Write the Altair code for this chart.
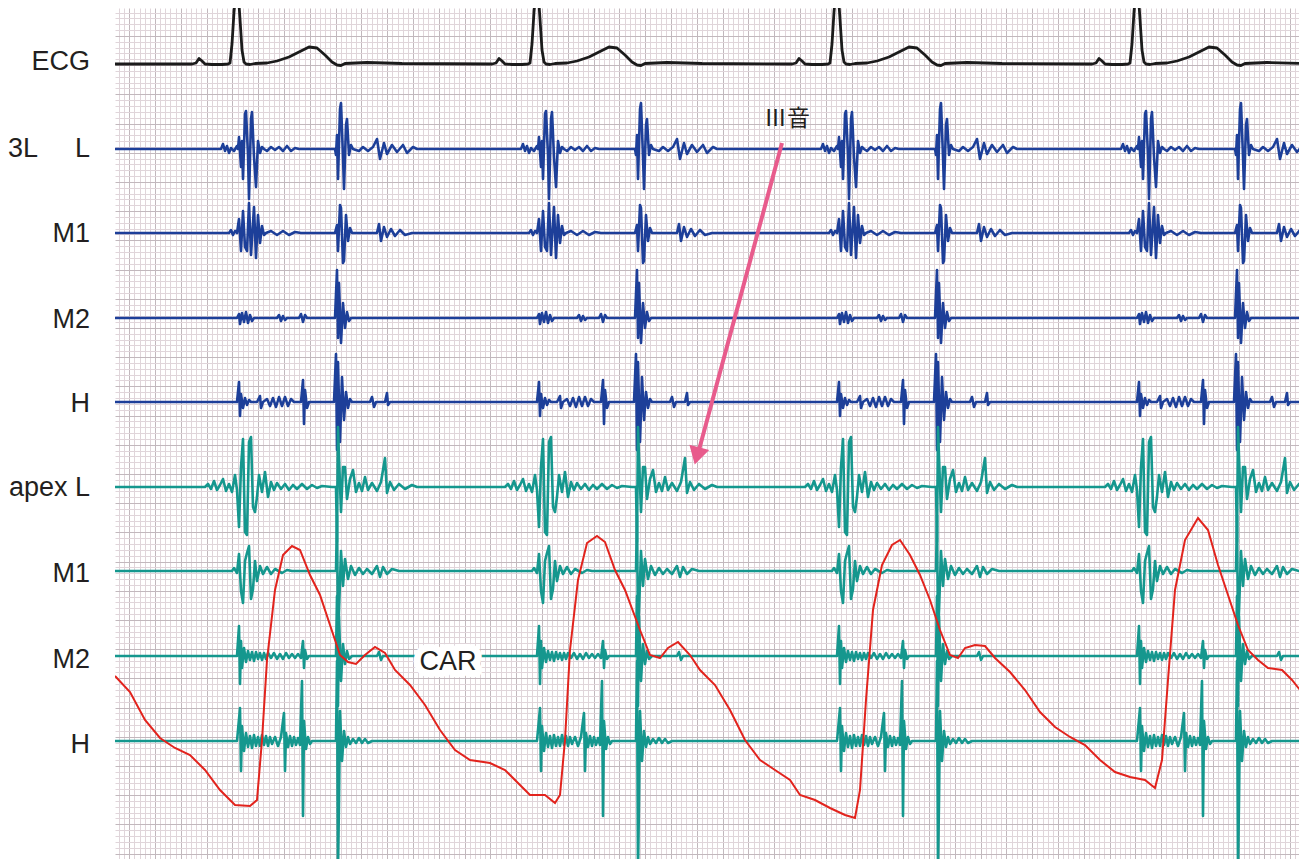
import altair as alt
import pandas as pd

# ---------------- data (read from the recording; x = position along strip, px units) -------------
r_peaks = [237, 537, 837, 1137]          # ECG R-wave positions

# ECG beat shape: (offset from R, deflection up)
ecg_beat = [(-45, 0), (-41, 1), (-38, 5.5), (-35, 3), (-32, 0), (-25, -0.5), (-15, -0.5), (-9, 0),
            (-7, 1), (-5, 20), (-3, 52), (-1, 74), (1, 74), (3, 45), (5, 14), (7, 2), (9, 0),
            (13, -0.5), (18, 0.5), (30, 1), (40, 3), (52, 7), (64, 13), (72, 17), (80, 16),
            (88, 9), (95, 2), (100, -1), (104, -1.5), (108, 0.5), (130, 1.5), (165, 0.5)]

# phonocardiogram beat shapes: (offset from R, deflection up)
pcg_3l_low = [(-30, 0), (-16, 0), (-14, 5), (-12, -2), (-10, 3), (-8, -4), (-6, 1), (-3, -2), (0, 3),
              (1, 0), (2, 12), (4, -18), (5, 8), (6, -30), (8, 35), (9, 38), (11, -6), (12, -50),
              (14, 30), (15, 37), (17, -8), (19, -38), (21, 8), (23, -4), (25, 2), (27, 0), (30, -2),
              (34, 2), (38, -1), (42, 2), (46, -2), (50, 3), (54, -2), (58, 1), (62, 0), (95, 0),
              (98, 0), (99, -6), (100, 14), (101, -30), (103, 40), (104, 46), (106, -8), (107, -40),
              (109, 24), (110, 30), (112, -6), (114, 4), (116, 0), (122, -2), (126, 2), (131, -2),
              (136, 2), (140, 10), (143, -10), (147, 6), (150, -5), (155, 4), (160, -3), (166, 4),
              (170, -4), (176, 2), (180, 0)]
pcg_3l_m1 = [(-30, 0), (-8, 0), (-6, 3), (-4, -2), (-2, 2), (0, 0), (2, 14), (4, -18), (6, 22),
             (8, -14), (10, -18), (12, 30), (14, -22), (17, 26), (19, -25), (21, 18), (23, -10),
             (25, 7), (27, -2), (29, 0), (34, 2), (40, -2), (46, 2), (52, -2), (58, 1), (64, 0),
             (95, 0), (98, 0), (100, 8), (101, -18), (103, 28), (104, 25), (106, -30), (107, -28),
             (109, 18), (111, -8), (113, 5), (115, 0), (140, 0), (142, 9), (144, -8), (147, 6),
             (150, -4), (154, 4), (158, -3), (163, 3), (168, -2), (175, 0)]
pcg_3l_m2 = [(-5, 0), (0, 0), (2, 4), (3, -6), (5, 5), (7, -4), (9, 6), (11, -5), (13, 3), (15, -3),
             (17, 0), (40, 0), (42, 3), (44, -3), (46, 2), (48, -2), (50, 0), (62, 0), (64, 4),
             (66, -4), (68, 3), (70, 0), (98, 0), (100, 48), (101, -20), (102, 35), (104, -25),
             (106, 15), (108, -10), (110, 6), (112, -3), (114, 0)]
pcg_3l_h = [(-5, 0), (0, 0), (2, 20), (3, -14), (4, 8), (6, -6), (8, 4), (10, -3), (12, 2), (14, 0),
            (20, 0), (23, 6), (24, -6), (26, 0), (30, 3), (33, -4), (36, 4), (39, -5), (42, 5),
            (45, -4), (48, 5), (51, -4), (54, 3), (57, 0), (64, 0), (66, 22), (67, -22), (68, 12),
            (70, -6), (72, 0), (97, 0), (99, 48), (100, -48), (101, 40), (103, -40), (105, 25),
            (107, -18), (109, 10), (111, -6), (113, 3), (115, 0), (133, 0), (135, 5), (137, -5),
            (139, 0), (148, 0), (150, 9), (151, -3), (153, 0)]
pcg_apex_low = [(-32, 0), (-29, 3), (-26, -2), (-23, 6), (-20, -3), (-17, 2), (-14, 8), (-11, -4),
                (-8, 3), (-5, -5), (-2, 12), (0, -3), (2, -40), (4, 20), (6, 48), (8, -45),
                (10, -48), (12, 45), (14, 50), (16, -20), (18, -25), (20, -10), (22, 12), (25, -5),
                (28, 15), (31, -10), (34, 5), (37, -3), (40, 4), (44, -2), (48, 3), (52, -3),
                (56, 2), (60, -2), (65, 3), (70, -2), (75, 2), (80, -1), (85, 1), (95, 0), (99, 0),
                (100, -55), (101, 60), (102, 30), (104, -25), (106, 20), (108, 20), (110, -12),
                (113, 8), (116, 17), (119, -5), (122, 4), (125, -4), (128, 10), (131, -3), (135, 4),
                (140, -4), (144, 5), (148, 29), (150, -6), (153, 5), (157, -3), (162, 3), (168, -2),
                (175, 2), (180, 0)]
pcg_apex_m1 = [(-5, 0), (-3, 3), (0, -2), (2, 17), (4, -20), (6, -32), (8, 10), (10, 18), (12, 25),
               (14, -28), (16, -18), (18, 10), (20, -10), (23, 5), (26, -3), (30, 4), (34, -3),
               (38, 2), (45, -2), (50, 1), (55, 0), (95, 0), (99, 0), (100, 55), (101, -60),
               (102, -40), (104, 20), (106, -15), (108, 12), (111, -8), (114, 5), (118, -4),
               (122, 3), (126, -3), (130, 2), (135, -3), (140, 5), (143, -6), (146, 4), (150, -3),
               (155, 2), (162, 0)]
pcg_apex_m2 = [(-2, 0), (0, 0), (2, 30), (3, -28), (4, 15), (5, -12), (7, 8), (9, -6), (11, 5),
               (13, -4), (15, 4), (17, -5), (19, 4), (21, -3), (23, 3), (25, -4), (27, 3), (29, -3),
               (31, 3), (34, -2), (37, 3), (40, -3), (43, 2), (46, -3), (49, 3), (52, -2), (55, 2),
               (58, -2), (61, 2), (64, -2), (66, 15), (67, -12), (68, 6), (70, -3), (72, 0), (99, 0),
               (100, 60), (101, -50), (102, 40), (104, -25), (106, 12), (108, -8), (110, 5),
               (112, -3), (115, 0), (140, 0), (142, 4), (144, -4), (146, 0)]
pcg_apex_h = [(-2, 0), (0, 0), (3, 33), (4, -30), (5, 15), (7, -10), (9, 8), (11, -6), (13, 5),
              (15, -7), (17, 6), (19, -5), (21, 4), (23, -5), (25, 6), (27, -4), (29, 5), (31, -5),
              (33, 4), (35, -3), (38, 4), (41, -5), (44, 4), (47, 28), (48, -30), (49, 8), (51, -6),
              (53, 5), (55, -5), (57, 4), (59, -4), (61, 3), (63, -4), (65, 60), (66, -75), (67, 20),
              (69, -8), (71, 4), (73, -3), (75, 0), (99, 0), (100, 80), (101, -130), (102, -60),
              (103, 30), (105, -20), (107, 10), (109, -6), (111, 4), (113, -3), (116, 2),
              (119, -2), (122, 3), (125, -2), (128, 2), (131, -2), (135, 0)]

# carotid pulse (CAR): (x, y) along the strip
car_x = [115, 130, 145, 160, 175, 190, 205, 220, 235, 250, 257, 262, 267, 275, 283, 292, 300, 310,
         320, 330, 340, 348, 356, 365, 375, 385, 395, 410, 425, 440, 455, 470, 490, 505, 520, 530,
         545, 555, 560, 565, 570, 578, 587, 597, 605, 615, 625, 640, 650, 660, 668, 678, 690, 700,
         715, 730, 745, 760, 775, 790, 800, 815, 830, 845, 855, 860, 866, 873, 882, 892, 900, 910,
         920, 930, 940, 950, 958, 965, 975, 985, 995, 1010, 1025, 1040, 1055, 1070, 1085, 1100,
         1115, 1130, 1145, 1155, 1162, 1168, 1175, 1185, 1198, 1208, 1218, 1228, 1238, 1248, 1258,
         1268, 1282, 1292, 1300, 1307]
car_y = [676, 692, 720, 738, 748, 755, 770, 790, 805, 806, 800, 740, 660, 590, 555, 546, 550, 575,
         595, 625, 655, 662, 664, 655, 647, 653, 670, 685, 705, 730, 750, 760, 763, 770, 785, 795,
         795, 803, 795, 740, 650, 580, 543, 536, 542, 570, 590, 630, 655, 658, 648, 642, 655, 670,
         685, 710, 740, 760, 770, 780, 795, 800, 808, 815, 818, 790, 700, 610, 565, 545, 540, 555,
         575, 600, 630, 655, 658, 648, 645, 646, 658, 672, 690, 712, 727, 737, 745, 760, 772, 777,
         780, 788, 760, 680, 590, 540, 518, 530, 565, 595, 625, 650, 660, 668, 670, 680, 690, 692]

# track labels and baselines
track_names = ["ECG", "3L L", "3L M1", "3L M2", "3L H", "apex L", "apex M1", "apex M2", "apex H"]
track_labels = ["ECG", "L", "M1", "M2", "H", "apex L", "M1", "M2", "H"]
track_base = [64, 149, 233, 318, 402, 487, 571, 656, 741]
label_y = [62, 149, 234, 320, 404, 488, 574, 660, 745]
track_group = ["ecg", "blue", "blue", "blue", "blue", "teal", "teal", "teal", "teal"]
track_shape = [ecg_beat, pcg_3l_low, pcg_3l_m1, pcg_3l_m2, pcg_3l_h,
               pcg_apex_low, pcg_apex_m1, pcg_apex_m2, pcg_apex_h]

# annotations
note_text = ["Ⅲ音"]
note_x = [787]
note_y = [119]
arrow_from = (782, 143)
arrow_to = (697, 456)
car_label = ("CAR", 448, 662)

# ---------------- build tables ----------------
rows = []
for name, base, grp, shape in zip(track_names, track_base, track_group, track_shape):
    i = 0
    rows.append(dict(trace=name, group=grp, x=100, y=base, i=i)); i += 1
    for r in r_peaks:
        for dt, v in shape:
            rows.append(dict(trace=name, group=grp, x=r + dt, y=base - v, i=i)); i += 1
    rows.append(dict(trace=name, group=grp, x=1320, y=base, i=i))
traces = pd.DataFrame(rows)
car = pd.DataFrame(dict(x=car_x, y=car_y, i=range(len(car_x))))

labels = pd.DataFrame(dict(text=track_labels, x=[90] * 9, y=label_y))
label3l = pd.DataFrame(dict(text=["3L"], x=[8], y=[149]))
notes = pd.DataFrame(dict(text=note_text, x=note_x, y=note_y))
arrow = pd.DataFrame(dict(x=[arrow_from[0]], y=[arrow_from[1]], x2=[arrow_to[0] + 2], y2=[arrow_to[1] - 6]))
head = pd.DataFrame(dict(x=[arrow_to[0]], y=[arrow_to[1]]))
carlab = pd.DataFrame(dict(text=[car_label[0]], x=[car_label[1]], y=[car_label[2]]))

# ---------------- scales / grid ----------------
X0, X1, Y0, Y1 = 115, 1299, 8, 859
xgrid = [round(155 + 5.16 * k, 2) for k in range(-7, 222)]
ygrid = [round(6.7 + 5.84 * k, 2) for k in range(1, 146)]
minor_col, major_col = "#e0d5da", "#c2b8bd"
xaxis = alt.Axis(values=xgrid, grid=True, labels=False, ticks=False, domain=False, title=None,
                 gridWidth=1, gridOpacity=1,
                 gridColor={"condition": {"test": "abs((datum.value-155)/25.8 - round((datum.value-155)/25.8)) < 0.05",
                                          "value": major_col}, "value": minor_col})
yaxis = alt.Axis(values=ygrid, grid=True, labels=False, ticks=False, domain=False, title=None,
                 gridWidth=1, gridOpacity=1,
                 gridColor={"condition": {"test": "abs((datum.value-6.7)/29.2 - round((datum.value-6.7)/29.2)) < 0.05",
                                          "value": major_col}, "value": minor_col})
xs = alt.Scale(domain=[X0, X1], nice=False, zero=False)
ys = alt.Scale(domain=[Y0, Y1], nice=False, zero=False, reverse=True)


def X(f="x"):
    return alt.X(f"{f}:Q", scale=xs, axis=xaxis)


def Y(f="y"):
    return alt.Y(f"{f}:Q", scale=ys, axis=yaxis)


def lines(grp, color, w):
    return alt.Chart(traces[traces.group == grp]).mark_line(
        clip=True, color=color, strokeWidth=w, strokeJoin="round").encode(
        x=X(), y=Y(), detail="trace:N", order="i:Q")


ecg = lines("ecg", "#1b1b1b", 2.8)
blue = lines("blue", "#1d3f99", 2.6)
teal = lines("teal", "#15978e", 2.6)
red = alt.Chart(car).mark_line(clip=True, color="#e2231d", strokeWidth=2.0).encode(
    x=X(), y=Y(), order="i:Q")

txt_style = dict(font="Liberation Sans", fontSize=27, color="#231f20", baseline="middle")
lab = alt.Chart(labels).mark_text(align="right", **txt_style).encode(x=X(), y=Y(), text="text:N")
lab3 = alt.Chart(label3l).mark_text(align="left", **txt_style).encode(x=X(), y=Y(), text="text:N")
note = alt.Chart(notes).mark_text(align="center", baseline="middle", font="Noto Sans CJK JP",
                                  fontSize=23, color="#231f20").encode(x=X(), y=Y(), text="text:N")
arr = alt.Chart(arrow).mark_rule(color="#e85b8c", strokeWidth=4).encode(
    x=X(), y=Y(), x2="x2:Q", y2="y2:Q")
arrh = alt.Chart(head).mark_point(shape="triangle-up", filled=True, size=420, angle=195,
                                  color="#e85b8c", opacity=1, strokeWidth=0).encode(x=X(), y=Y())
carhalo = alt.Chart(carlab).mark_text(align="center", font="Liberation Sans", fontSize=27,
                                      baseline="middle", stroke="white", strokeWidth=14,
                                      strokeJoin="round", color="white").encode(x=X(), y=Y(), text="text:N")
cartxt = alt.Chart(carlab).mark_text(align="center", font="Liberation Sans", fontSize=27,
                                     baseline="middle", color="#231f20").encode(x=X(), y=Y(), text="text:N")

chart = alt.layer(ecg, blue, teal, red, arr, arrh, lab, lab3, note, carhalo, cartxt).properties(
    width=X1 - X0, height=Y1 - Y0,
    padding={"left": 107, "top": 0, "right": 0, "bottom": 0},
    autosize=alt.AutoSizeParams(type="none"),
    background="white",
).configure_view(strokeWidth=0)

chart.save("out.html", embed_options={"renderer": "svg", "actions": False})
